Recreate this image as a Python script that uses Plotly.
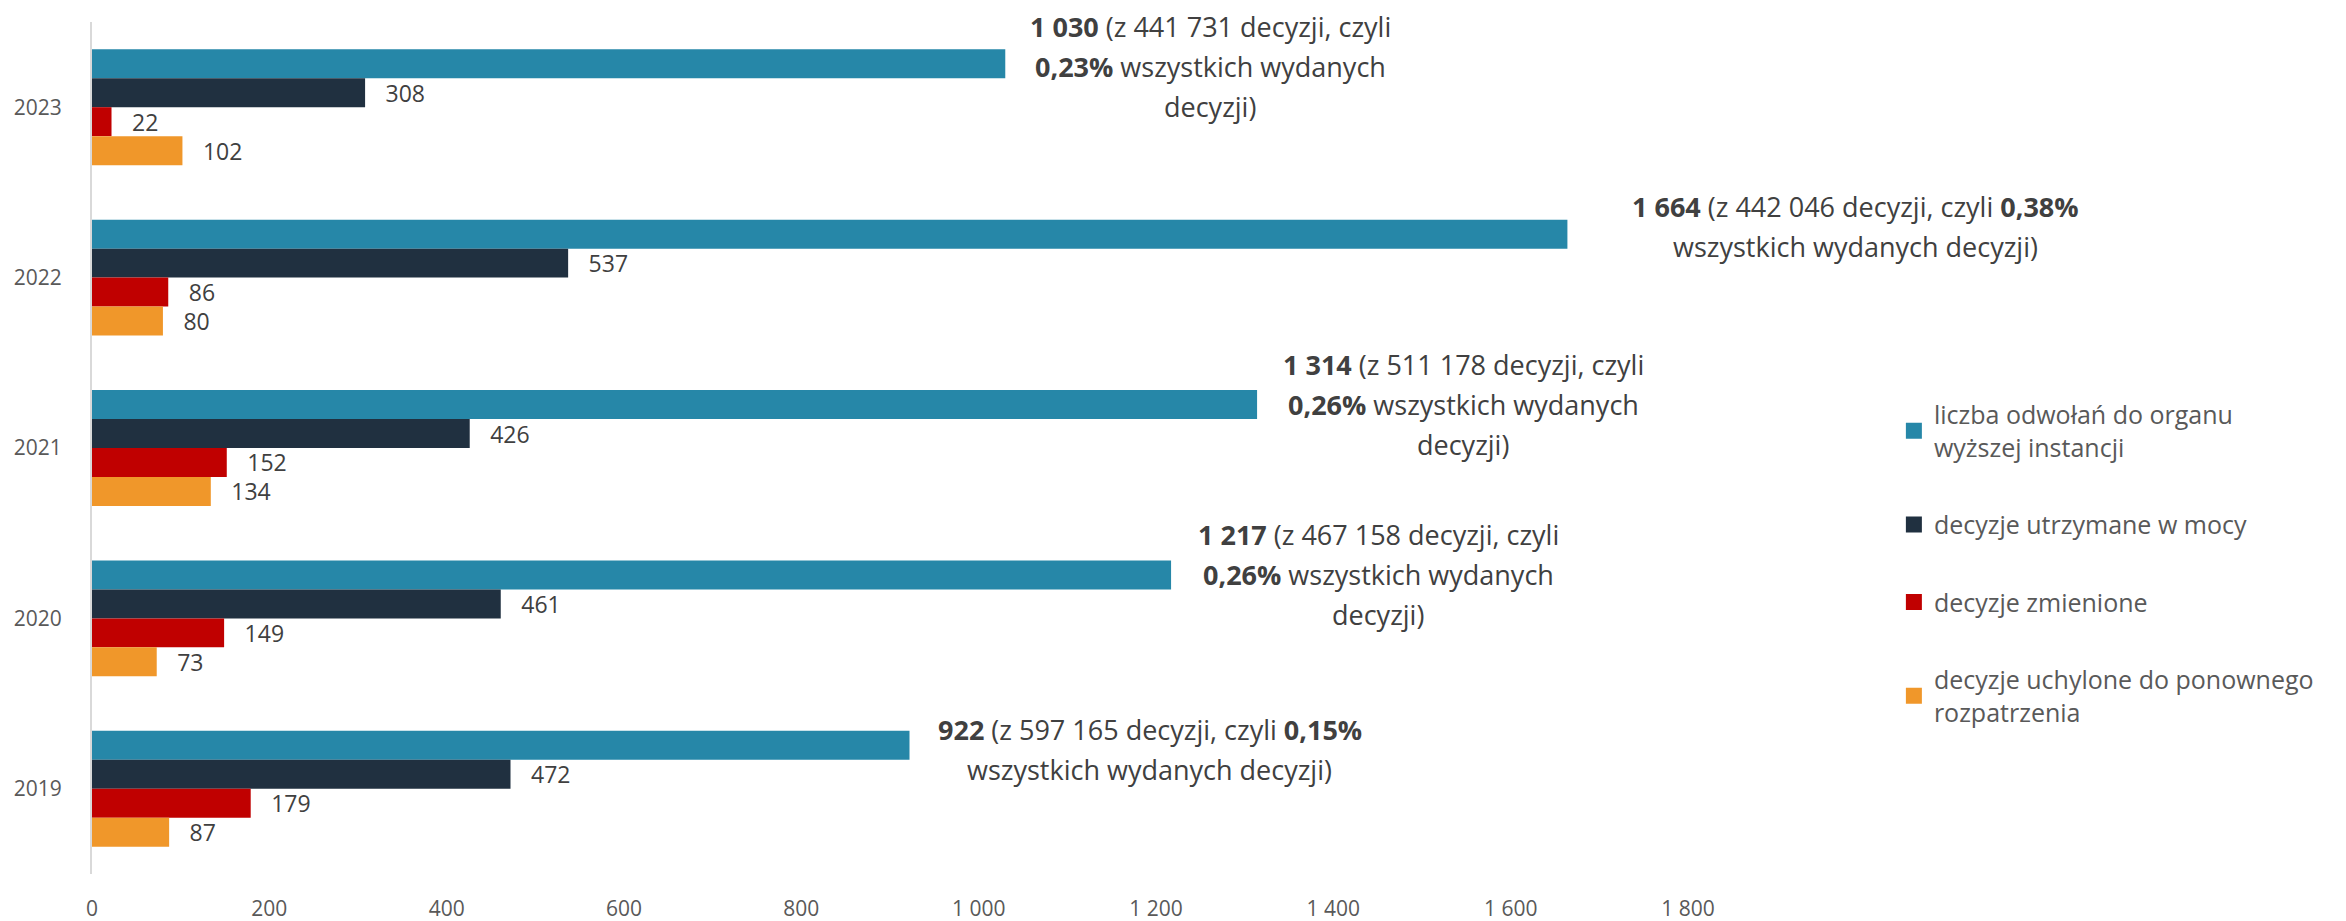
import plotly.graph_objects as go

# ---- data ----
years = ["2023", "2022", "2021", "2020", "2019"]
appeals = [1030, 1664, 1314, 1217, 922]          # liczba odwołań do organu wyższej instancji
upheld = [308, 537, 426, 461, 472]               # decyzje utrzymane w mocy
changed = [22, 86, 152, 149, 179]                # decyzje zmienione
annulled = [102, 80, 134, 73, 87]                # decyzje uchylone do ponownego rozpatrzenia
all_decisions = [441731, 442046, 511178, 467158, 597165]
shares = ["0,23%", "0,38%", "0,26%", "0,26%", "0,15%"]

series_names = [
    "liczba odwołań do organu<br>wyższej instancji",
    "decyzje utrzymane w mocy",
    "decyzje zmienione",
    "decyzje uchylone do ponownego<br>rozpatrzenia",
]
tick_vals = [0, 200, 400, 600, 800, 1000, 1200, 1400, 1600, 1800]
tick_text = ["0", "200", "400", "600", "800", "1 000", "1 200", "1 400", "1 600", "1 800"]

# ---- style ----
colors = ["#2687A8", "#203040", "#C00000", "#F0972A"]
FONT = "Open Sans"
GRAY = "#595959"
DARK = "#404040"
note_short = [False, True, False, False, True]   # 2-line layout of the note
note_xshift = [205, 288, 206, 207, 240]          # px from bar end to note centre
note_dy = [3, -8, 0, 0, 4]                       # px, note centre below blue bar centre
LINE_H = 40                                      # px between note lines
BAR_OFF = 43.5                                   # px, blue bar centre above group centre

ypos = list(range(len(years)))


def fmt(n):
    return f"{n:,}".replace(",", " ")


fig = go.Figure()
series = [appeals, upheld, changed, annulled]
for i, (name, vals, col) in enumerate(zip(series_names, series, colors)):
    kw = {}
    if i > 0:
        kw = dict(
            text=[fmt(v) for v in vals],
            texttemplate="\u2002\u00a0%{text}",
            textposition="outside",
            constraintext="none",
            textfont=dict(family=FONT, size=23, color=DARK),
        )
    fig.add_trace(go.Bar(
        y=ypos, x=vals, name=name, orientation="h",
        marker=dict(color=col, line=dict(width=0)),
        showlegend=False,
        cliponaxis=False,
        hoverinfo="skip",
        **kw,
    ))

# legend entries with larger square swatches
for i, (name, col) in enumerate(zip(series_names, colors)):
    fig.add_trace(go.Scatter(
        x=[None], y=[None], mode="markers", name=name,
        marker=dict(symbol="square", size=17, color=col),
        legendgroup=f"g{i}", showlegend=True, hoverinfo="skip",
    ))

for k, yv in enumerate(ypos):
    head = f"<b>{fmt(appeals[k])}</b> (z {fmt(all_decisions[k])} decyzji, czyli"
    if note_short[k]:
        lines = [f"{head} <b>{shares[k]}</b>", "wszystkich wydanych decyzji)"]
    else:
        lines = [head, f"<b>{shares[k]}</b> wszystkich wydanych", "decyzji)"]
    n = len(lines)
    for j, ln in enumerate(lines):
        off_down = note_dy[k] + (j - (n - 1) / 2) * LINE_H
        fig.add_annotation(
            x=appeals[k], y=yv, xref="x", yref="y", text=ln, showarrow=False,
            xanchor="center", yanchor="middle", align="center",
            xshift=note_xshift[k], yshift=BAR_OFF - off_down,
            font=dict(family=FONT, size=27, color=DARK),
        )

fig.update_layout(
    width=2346, height=921,
    margin=dict(l=92, r=658, t=22, b=47),
    paper_bgcolor="white", plot_bgcolor="white",
    barmode="group", bargap=0.32, bargroupgap=0,
    font=dict(family=FONT, color=GRAY),
    showlegend=True,
    legend=dict(
        x=1.129, y=0.566, xanchor="left", yanchor="top",
        font=dict(family=FONT, size=25, color=GRAY),
        tracegroupgap=42, itemwidth=30, bgcolor="rgba(0,0,0,0)",
    ),
    xaxis=dict(
        range=[0, 1800], tickvals=tick_vals, ticktext=tick_text,
        showgrid=False, zeroline=False, showline=False, ticks="",
        tickfont=dict(family=FONT, size=21, color=GRAY),
        ticklabelstandoff=20, automargin=False,
    ),
    yaxis=dict(
        range=[len(years) - 0.5, -0.5],
        tickvals=ypos, ticktext=years,
        showgrid=False, zeroline=False, showline=True,
        linecolor="#D9D9D9", linewidth=2, ticks="",
        tickfont=dict(family=FONT, size=21, color=GRAY),
        ticklabelstandoff=24, automargin=False,
    ),
)

fig.write_html(
    "out.html",
    config={"displayModeBar": False},
    post_script="document.body.style.margin='0';document.body.style.overflow='hidden';",
)
